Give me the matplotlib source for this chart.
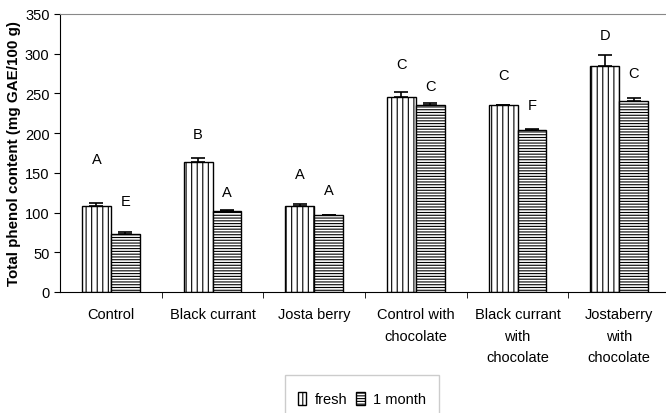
import matplotlib
matplotlib.use("Agg")
import matplotlib.pyplot as plt
from matplotlib.patches import Patch, Rectangle
import numpy as np

plt.rcParams['font.family'] = ['Liberation Sans', 'DejaVu Sans']
plt.rcParams['hatch.linewidth'] = 0.8

categories = ["Control", "Black currant", "Josta berry", "Control with\nchocolate",
              "Black currant\nwith\nchocolate", "Jostaberry\nwith\nchocolate"]
fresh = [108, 164, 108, 246, 235, 285]
fresh_err = [4, 5, 3, 6, 0.5, 14]
month = [73, 102, 97, 236, 204, 241]
month_err = [3, 1.5, 0.5, 2, 1.5, 3]
fresh_letters = ["A", "B", "A", "C", "C", "D"]
month_letters = ["E", "A", "A", "C", "F", "C"]
fresh_letter_y = [168, 199, 149, 287, 273, 323]
month_letter_y = [115, 126, 129, 259, 235, 276]
yticks = [0, 50, 100, 150, 200, 250, 300, 350]

fig = plt.figure(figsize=(6.66, 4.14), dpi=100)
ax = fig.add_axes([60/666, 1-293/414, 610/666, 278/414])

x = np.arange(len(categories))
w = 0.285
ekw = dict(ecolor='black', elinewidth=1.2, capthick=1.2)
ax.bar(x - w/2, fresh, w, color='white', edgecolor='black', hatch='|||', linewidth=1.0,
       yerr=[[0]*len(fresh), fresh_err], capsize=5, error_kw=ekw)
ax.bar(x + w/2, month, w, color='white', edgecolor='black', hatch='------', linewidth=1.0,
       yerr=[[0]*len(month), month_err], capsize=5, error_kw=ekw)

for i in range(len(categories)):
    ax.text(x[i] - w/2, fresh_letter_y[i], fresh_letters[i], ha='center', va='center', fontsize=10.5)
    ax.text(x[i] + w/2, month_letter_y[i], month_letters[i], ha='center', va='center', fontsize=10.5)

ax.set_xlim(-0.5, len(categories) - 0.5)
ax.set_ylim(0, 350)
ax.set_yticks(yticks)
ax.set_xticks(x)
ax.set_xticklabels(categories, fontsize=10.5, linespacing=1.68)
ax.set_xticks(np.arange(0.5, len(categories) - 0.5, 1), minor=True)
ax.tick_params(axis='x', which='major', length=0, pad=11)
ax.tick_params(axis='x', which='minor', length=4, direction='out')
ax.tick_params(axis='y', labelsize=10.5, length=4, direction='out')

ax.spines['right'].set_visible(False)
ax.spines['top'].set_color('#888888')
ax.spines['left'].set_color('black')
ax.spines['bottom'].set_color('black')

ax.set_ylabel("Total phenol content (mg GAE/100 g)", fontsize=10.9, fontweight='bold', labelpad=3)

handles = [Patch(facecolor='white', edgecolor='black', hatch='|||', label='fresh'),
           Patch(facecolor='white', edgecolor='black', hatch='------', label='1 month')]
leg = fig.legend(handles=handles, loc='center', bbox_to_anchor=(362/666, 1-400/414), ncol=2,
                 frameon=False, fontsize=10.5, handlelength=0.6, handleheight=1.0,
                 handletextpad=0.6, columnspacing=0.55, borderpad=0.0)
fig.patches.append(Rectangle((285/666, -0.02), 154/666, (414-376)/414 + 0.02,
                             transform=fig.transFigure, fill=False, edgecolor='#cccccc', linewidth=1.0))

fig.savefig("out.png", dpi=100)
